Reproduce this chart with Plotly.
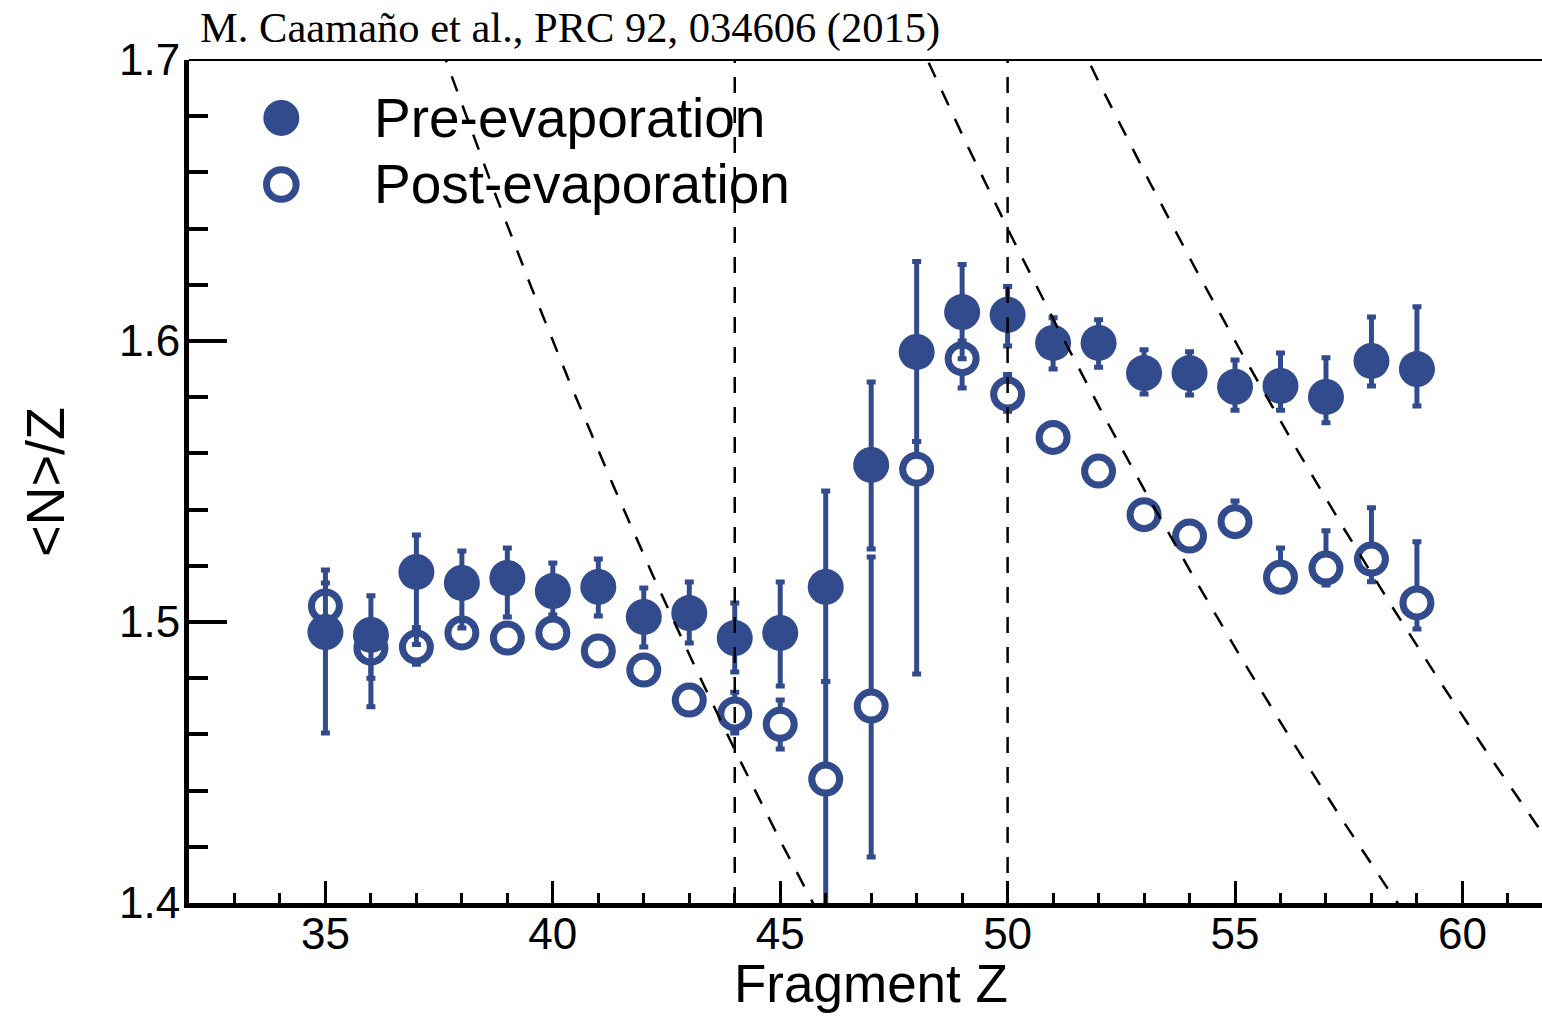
import plotly.graph_objects as go

# ---------------- data ----------------
Z = [35, 36, 37, 38, 39, 40, 41, 42, 43, 44, 45, 46, 47, 48, 49, 50, 51, 52,
     53, 54, 55, 56, 57, 58, 59]

pre_val = [1.4964, 1.4954, 1.5178, 1.5139, 1.5157, 1.5110, 1.5125, 1.5018, 1.5032,
           1.4943, 1.4961, 1.5125, 1.5559, 1.5961, 1.6103, 1.6093, 1.5993, 1.5993,
           1.5886, 1.5886, 1.5837, 1.5840, 1.5801, 1.5929, 1.5900]
pre_hi = [1.5185, 1.5093, 1.5310, 1.5253, 1.5263, 1.5210, 1.5224, 1.5121, 1.5142,
          1.5068, 1.5142, 1.5466, 1.5854, 1.6283, 1.6272, 1.6194, 1.6083, 1.6076,
          1.5969, 1.5962, 1.5932, 1.5957, 1.5940, 1.6085, 1.6122]
pre_lo = [1.4605, 1.4698, 1.4920, 1.4979, 1.5018, 1.5025, 1.5021, 1.4911, 1.4925,
          1.4822, 1.4772, 1.4788, 1.5260, 1.5642, 1.5937, 1.5982, 1.5900, 1.5907,
          1.5811, 1.5808, 1.5754, 1.5754, 1.5709, 1.5840, 1.5769]

post_val = [1.5057, 1.4907, 1.4911, 1.4961, 1.4943, 1.4961, 1.4897, 1.4829, 1.4722,
            1.4673, 1.4636, 1.4441, 1.4701, 1.5544, 1.5937, 1.5811, 1.5657, 1.5537,
            1.5382, 1.5306, 1.5357, 1.5159, 1.5192, 1.5224, 1.5068]
post_hi = [1.5139, 1.5000, 1.4980, 1.4961, 1.4943, 1.4961, 1.4897, 1.4829, 1.4722,
           1.4750, 1.4722, 1.4788, 1.5231, 1.5642, 1.6000, 1.5881, 1.5657, 1.5537,
           1.5382, 1.5306, 1.5431, 1.5263, 1.5325, 1.5407, 1.5286]
post_lo = [1.5000, 1.4800, 1.4850, 1.4961, 1.4943, 1.4961, 1.4897, 1.4829, 1.4722,
           1.4605, 1.4548, 1.3800, 1.4164, 1.4815, 1.5833, 1.5750, 1.5657, 1.5537,
           1.5382, 1.5306, 1.5357, 1.5159, 1.5132, 1.5143, 1.4975]

vertical_Z = [44, 50]          # dashed vertical guides
iso_N = [64, 82, 88]           # dashed lines of constant neutron number (N/Z = N/Z)

series_names = ["Pre-evaporation", "Post-evaporation"]
x_ticks = [35, 40, 45, 50, 55, 60]
y_ticks = [1.4, 1.5, 1.6, 1.7]
citation = "M. Caamaño et al., PRC 92, 034606 (2015)"
x_title = "Fragment Z"
y_title = "&lt;N&gt;/Z"

# ---------------- style ----------------
BLUE = "#324b8c"
SANS = "Liberation Sans, Arial, Helvetica, sans-serif"
SERIF = "Liberation Serif, Times New Roman, serif"
X_RANGE = [32, 61.75]
Y_RANGE = [1.4, 1.7]
L, R, T, B = 189, 0, 60, 114
W, H = 1542, 1017
PW, PH = W - L - R, H - T - B


def px_to_paper(px, py):
    return (px - L) / PW, (H - B - py) / PH


fig = go.Figure()

# post-evaporation (open) drawn first so the filled series' bars lie on top
fig.add_trace(go.Scatter(
    x=Z, y=post_val, mode="markers", name=series_names[1], showlegend=False,
    marker=dict(symbol="circle", size=28, color="white",
                line=dict(color=BLUE, width=7)),
    error_y=dict(type="data", symmetric=False,
                 array=[h - v for h, v in zip(post_hi, post_val)],
                 arrayminus=[v - l for v, l in zip(post_val, post_lo)],
                 color=BLUE, thickness=5, width=4.5),
))
fig.add_trace(go.Scatter(
    x=Z, y=pre_val, mode="markers", name=series_names[0], showlegend=False,
    marker=dict(symbol="circle", size=36, color=BLUE, line=dict(width=0)),
    error_y=dict(type="data", symmetric=False,
                 array=[h - v for h, v in zip(pre_hi, pre_val)],
                 arrayminus=[v - l for v, l in zip(pre_val, pre_lo)],
                 color=BLUE, thickness=5, width=4.5),
))

# dashed guide lines
for zv in vertical_Z:
    fig.add_trace(go.Scatter(x=[zv, zv], y=Y_RANGE, mode="lines", showlegend=False,
                             line=dict(color="black", width=2.5, dash="16px,14px"),
                             hoverinfo="skip"))
zgrid = [32 + 0.05 * i for i in range(int((62.5 - 32) / 0.05) + 1)]
for n in iso_N:
    fig.add_trace(go.Scatter(x=zgrid, y=[n / z for z in zgrid], mode="lines",
                             showlegend=False,
                             line=dict(color="black", width=2.5, dash="16px,15px"),
                             hoverinfo="skip"))

# manual legend (large symbols, as in the reference)
shapes = []
leg_x = 34.03
leg_y = [1.6794, 1.6557]
shapes.append(dict(type="circle", xref="x", yref="y", xsizemode="pixel", ysizemode="pixel",
                   xanchor=leg_x, yanchor=leg_y[0], x0=-18, x1=18, y0=-18, y1=18,
                   fillcolor=BLUE, line=dict(width=0), layer="above"))
shapes.append(dict(type="circle", xref="x", yref="y", xsizemode="pixel", ysizemode="pixel",
                   xanchor=leg_x, yanchor=leg_y[1], x0=-14.8, x1=14.8, y0=-14.8, y1=14.8,
                   fillcolor="white", line=dict(width=7, color=BLUE), layer="above"))
# thin top frame line
shapes.append(dict(type="line", xref="paper", yref="paper", x0=0, x1=1, y0=1, y1=1,
                   line=dict(color="black", width=2), layer="above"))

annotations = []
for name, yv in zip(series_names, leg_y):
    annotations.append(dict(x=36.02, y=yv, xref="x", yref="y", text=name, showarrow=False,
                            xanchor="left", yanchor="middle",
                            font=dict(family=SANS, size=55, color="black")))
cx, cy = px_to_paper(198, 28)
annotations.append(dict(x=cx, y=cy, xref="paper", yref="paper", text=citation,
                        showarrow=False, xanchor="left", yanchor="middle",
                        font=dict(family=SERIF, size=42.5, color="black")))
tx, ty = px_to_paper(871, 1015)
annotations.append(dict(x=tx, y=ty, xref="paper", yref="paper", text=x_title,
                        showarrow=False, xanchor="center", yanchor="bottom",
                        font=dict(family=SANS, size=53, color="black")))
yx, yy = px_to_paper(45, 482)
annotations.append(dict(x=yx, y=yy, xref="paper", yref="paper", text=y_title,
                        showarrow=False, xanchor="center", yanchor="middle", textangle=-90,
                        font=dict(family=SANS, size=54, color="black")))

fig.update_layout(
    width=W, height=H,
    margin=dict(l=L, r=R, t=T, b=B, pad=0),
    paper_bgcolor="white", plot_bgcolor="white",
    shapes=shapes, annotations=annotations,
    showlegend=False,
    xaxis=dict(range=X_RANGE, showgrid=False, zeroline=False,
               showline=True, linecolor="black", linewidth=5, mirror=False,
               tickmode="array", tickvals=x_ticks, ticktext=[str(t) for t in x_ticks],
               ticks="inside", ticklen=22, tickwidth=3, tickcolor="black",
               ticklabelstandoff=-12,
               minor=dict(dtick=1, tick0=0, ticks="inside", ticklen=10, tickwidth=3,
                          tickcolor="black", showgrid=False),
               tickfont=dict(family=SANS, size=44, color="black")),
    yaxis=dict(range=Y_RANGE, showgrid=False, zeroline=False,
               showline=True, linecolor="black", linewidth=5, mirror=False,
               tickmode="array", tickvals=y_ticks, ticktext=[f"{t:.1f}" for t in y_ticks],
               ticks="inside", ticklen=38, tickwidth=4, tickcolor="black",
               ticklabelstandoff=-5,
               minor=dict(dtick=0.02, tick0=1.4, ticks="inside", ticklen=19, tickwidth=4,
                          tickcolor="black", showgrid=False),
               tickfont=dict(family=SANS, size=44, color="black")),
)

fig.write_html("out.html")
